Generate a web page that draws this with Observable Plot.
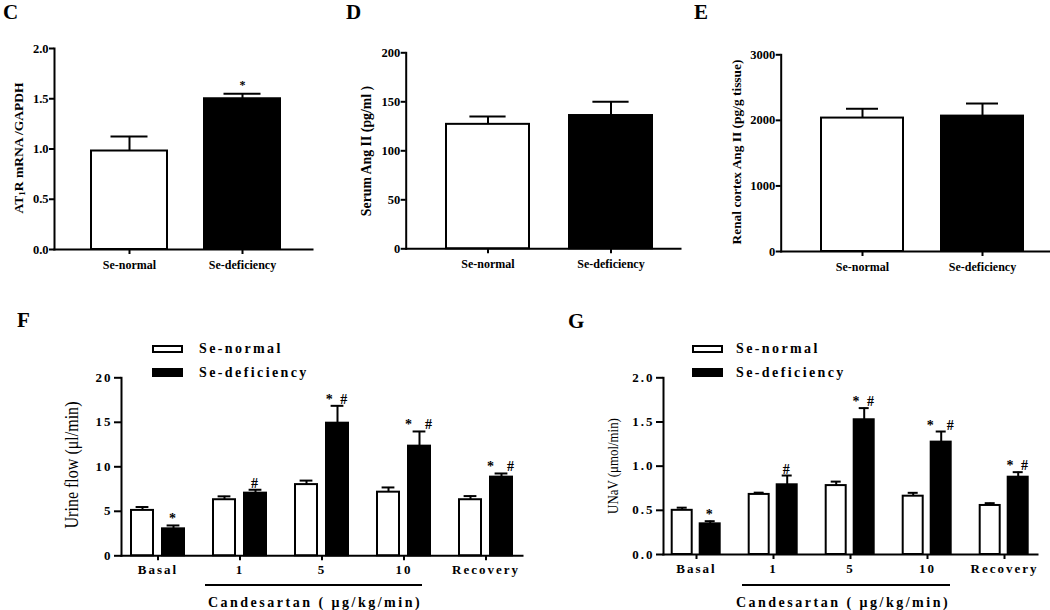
<!DOCTYPE html>
<html><head><meta charset="utf-8">
<script src="https://cdn.jsdelivr.net/npm/d3@7"></script>
<script src="https://cdn.jsdelivr.net/npm/@observablehq/plot@0.6"></script>
<style>
body{margin:0;background:#fff;}
#fig{position:relative;width:1050px;height:610px;overflow:hidden;background:#fff;font-family:"Liberation Serif","Times New Roman",serif;color:#000;}
.panel{position:absolute;}
.letter{position:absolute;font-weight:bold;font-size:21px;line-height:22px;}
.ytitle{position:absolute;white-space:nowrap;line-height:1;}
.ytitle sub{font-size:9px;vertical-align:-2px;}
.lg-box{position:absolute;box-sizing:border-box;border:2px solid #000;}
.lg-text{position:absolute;font-weight:bold;font-size:14px;letter-spacing:2.4px;line-height:1;transform:translateY(-50%);white-space:nowrap;}
.brk{position:absolute;height:2px;background:#000;}
.brk-text{position:absolute;font-weight:bold;font-size:14px;letter-spacing:2.5px;line-height:1;transform:translate(-50%,-50%);white-space:nowrap;}
</style></head>
<body><div id="fig"></div>
<script>
// ---- data ----
const groupsTop = ["Se-normal", "Se-deficiency"];
const atrMean = [0.98, 1.50];
const atrErr = [0.145, 0.05];
const atrSig = ["", "*"];
const atrTicks = [0, 0.5, 1.0, 1.5, 2.0];

const serumMean = [127, 136];
const serumErr = [8, 14];
const serumSig = ["", ""];
const serumTicks = [0, 50, 100, 150, 200];

const cortexMean = [2035, 2065];
const cortexErr = [142, 192];
const cortexSig = ["", ""];
const cortexTicks = [0, 1000, 2000, 3000];

const doses = ["Basal", "1", "5", "10", "Recovery"];
const series = ["Se-normal", "Se-deficiency"];

const flowNormalMean = [5.1, 6.3, 8.0, 7.15, 6.3];
const flowNormalErr = [0.38, 0.38, 0.45, 0.53, 0.41];
const flowDefMean = [3.03, 7.04, 14.9, 12.32, 8.84];
const flowDefErr = [0.38, 0.38, 1.95, 1.65, 0.41];
const flowSig = ["*", "#", "* #", "*\u00a0\u00a0#", "*\u00a0\u00a0#"];
const flowTicks = [0, 5, 10, 15, 20];

const unavNormalMean = [0.50, 0.68, 0.78, 0.66, 0.555];
const unavNormalErr = [0.03, 0.02, 0.045, 0.038, 0.026];
const unavDefMean = [0.347, 0.789, 1.525, 1.272, 0.875];
const unavDefErr = [0.03, 0.105, 0.132, 0.12, 0.057];
const unavSig = ["*", "#", "* #", "*\u00a0\u00a0#", "*\u00a0#"];
const unavTicks = [0, 0.5, 1.0, 1.5, 2.0];

const fig = document.getElementById("fig");

function place(node, left, top) {
  const d = document.createElement("div");
  d.className = "panel";
  d.style.left = left + "px";
  d.style.top = top + "px";
  d.appendChild(node);
  fig.appendChild(d);
}

function simplePanel(o) {
  const rows = groupsTop.map((g, i) => ({group: g, mean: o.mean[i], err: o.err[i], sig: o.sig[i]}));
  return Plot.plot({
    width: o.width, height: o.height,
    marginLeft: o.ml, marginRight: o.mr, marginTop: o.mt, marginBottom: o.mb,
    style: "font-family:'Liberation Serif',serif;font-weight:bold;font-size:12.5px;background:transparent;color:#000;",
    x: {domain: groupsTop, paddingInner: o.pi, paddingOuter: o.po, align: o.align},
    y: {domain: o.yDomain},
    color: {domain: groupsTop, range: ["#ffffff", "#000000"]},
    marks: [
      Plot.barY(rows, {x: "group", y: "mean", fill: "group", stroke: "#000", strokeWidth: 2}),
      Plot.ruleX(rows, {x: "group", y1: "mean", y2: d => d.mean + d.err, strokeWidth: 2}),
      Plot.tickY(rows, {x: "group", y: d => d.mean + d.err, strokeWidth: 2, insetLeft: o.cap, insetRight: o.cap}),
      Plot.text(rows, {x: "group", y: d => d.mean + d.err, text: "sig", lineAnchor: "bottom", dy: -5, fontSize: 12}),
      Plot.axisY({ticks: o.ticks, tickFormat: o.fmt, tickSize: 5, tickPadding: 1, strokeWidth: 2, label: null}),
      Plot.axisX({tickSize: 5, tickPadding: 6, strokeWidth: 2, label: null, fontSize: 12}),
      Plot.frame({anchor: "left", strokeWidth: 2}),
      Plot.frame({anchor: "bottom", strokeWidth: 2})
    ]
  });
}

function groupedPanel(o) {
  const rows = doses.flatMap((d, i) => [
    {dose: d, series: series[0], mean: o.m1[i], err: o.e1[i], sig: ""},
    {dose: d, series: series[1], mean: o.m2[i], err: o.e2[i], sig: o.sig[i]}
  ]);
  return Plot.plot({
    width: o.width, height: o.height,
    marginLeft: o.ml, marginRight: o.mr, marginTop: o.mt, marginBottom: o.mb,
    style: "font-family:'Liberation Serif',serif;font-weight:bold;font-size:13px;letter-spacing:2px;background:transparent;color:#000;",
    fx: {domain: doses, paddingInner: o.fpi, paddingOuter: o.fpo, align: 0, label: null},
    x: {domain: series, paddingInner: o.xpi, paddingOuter: o.xpo, axis: null},
    y: {domain: o.yDomain},
    color: {domain: series, range: ["#ffffff", "#000000"]},
    marks: [
      Plot.barY(rows, {fx: "dose", x: "series", y: "mean", fill: "series", stroke: "#000", strokeWidth: 2}),
      Plot.ruleX(rows, {fx: "dose", x: "series", y1: "mean", y2: d => d.mean + d.err, strokeWidth: 2}),
      Plot.tickY(rows, {fx: "dose", x: "series", y: d => d.mean + d.err, strokeWidth: 2, insetLeft: o.cap, insetRight: o.cap}),
      Plot.text(rows, {fx: "dose", x: "series", y: d => d.mean + d.err, text: "sig", lineAnchor: "bottom", dy: -2, fontSize: 14}),
      Plot.axisY({ticks: o.ticks, tickFormat: o.fmt, tickSize: 7, tickPadding: 2, strokeWidth: 2, label: null}),
      Plot.axisFx({anchor: "bottom", tickSize: 5, tickPadding: 4, strokeWidth: 2, label: null}),
      Plot.frame({facet: "super", anchor: "left", strokeWidth: 2}),
      Plot.frame({facet: "super", anchor: "bottom", strokeWidth: 2})
    ]
  });
}

// C
place(simplePanel({mean: atrMean, err: atrErr, sig: atrSig, yDomain: [0, 2], ticks: atrTicks, fmt: d3.format(".1f"),
  width: 340, height: 290, ml: 54, mr: 28, mt: 48, mb: 41, pi: 0.327, po: 0.305, align: 0.536, cap: 19.5}), 0, 0);
// D
place(simplePanel({mean: serumMean, err: serumErr, sig: serumSig, yDomain: [0, 200], ticks: serumTicks, fmt: d3.format("d"),
  width: 350, height: 290, ml: 65.7, mr: 10, mt: 52.3, mb: 41.7, pi: 0.323, po: 0.274, align: 0.596, cap: 23.4}), 340, 0);
// E
place(simplePanel({mean: cortexMean, err: cortexErr, sig: cortexSig, yDomain: [0, 3000], ticks: cortexTicks, fmt: d3.format("d"),
  width: 360, height: 290, ml: 90.7, mr: 0, mt: 54.3, mb: 39, pi: 0.314, po: 0.276, align: 0.598, cap: 25}), 690, 0);
// F
place(groupedPanel({m1: flowNormalMean, e1: flowNormalErr, m2: flowDefMean, e2: flowDefErr, sig: flowSig,
  yDomain: [0, 20], ticks: flowTicks, fmt: d3.format("d"),
  width: 540, height: 310, ml: 121, mr: 13, mt: 77.3, mb: 54.7,
  fpi: 0.114, fpo: 0.0145, xpi: 0.279, xpo: 0.3125, cap: 4.6}), 0, 300);
// G
place(groupedPanel({m1: unavNormalMean, e1: unavNormalErr, m2: unavDefMean, e2: unavDefErr, sig: unavSig,
  yDomain: [0, 2], ticks: unavTicks, fmt: d3.format(".1f"),
  width: 510, height: 310, ml: 123.3, mr: 0, mt: 77.3, mb: 56,
  fpi: 0.138, fpo: 0.064, xpi: 0.276, xpo: 0.29, cap: 5}), 540, 300);

// ---- HTML annotations ----
function add(html, cls, styles) {
  const d = document.createElement("div");
  d.className = cls;
  d.innerHTML = html;
  Object.assign(d.style, styles);
  fig.appendChild(d);
  return d;
}
add("C", "letter", {left: "3px", top: "1px"});
add("D", "letter", {left: "346px", top: "1px"});
add("E", "letter", {left: "694px", top: "1px"});
add("F", "letter", {left: "17px", top: "309px"});
add("G", "letter", {left: "568px", top: "310px"});

function ytitle(html, cx, cy, size, weight, sx) {
  add(html, "ytitle", {left: cx + "px", top: cy + "px", fontSize: size + "px", fontWeight: weight,
    transform: `translate(-50%,-50%) rotate(-90deg) scale(${sx},1)`});
}
ytitle("AT<sub>1</sub>R mRNA /GAPDH", 19, 148, 13.5, "bold", 1);
ytitle("Serum Ang II (pg/ml )", 366.7, 151, 13.8, "bold", 1);
ytitle("Renal cortex Ang II (pg/g tissue)", 736.7, 151.5, 13.4, "bold", 1);
ytitle("Urine flow (μl/min)", 71.7, 465, 18, "normal", 0.89);
ytitle("UNaV (μmol/min)", 614, 466, 14, "normal", 0.92);

function legend(x0, xt) {
  add("", "lg-box", {left: x0 + "px", top: "345px", width: "31px", height: "8px", background: "#fff"});
  add("", "lg-box", {left: x0 + "px", top: "368px", width: "31px", height: "9px", background: "#000"});
  add(series[0], "lg-text", {left: xt + "px", top: "349.3px"});
  add(series[1], "lg-text", {left: xt + "px", top: "372.7px"});
}
legend(151.7, 199);
legend(691.7, 736);

add("", "brk", {left: "205px", top: "584px", width: "217px"});
add("Candesartan ( μg/kg/min)", "brk-text", {left: "315px", top: "603px"});
add("", "brk", {left: "741.7px", top: "584px", width: "208px"});
add("Candesartan ( μg/kg/min)", "brk-text", {left: "843px", top: "603px"});
</script>
</body></html>
